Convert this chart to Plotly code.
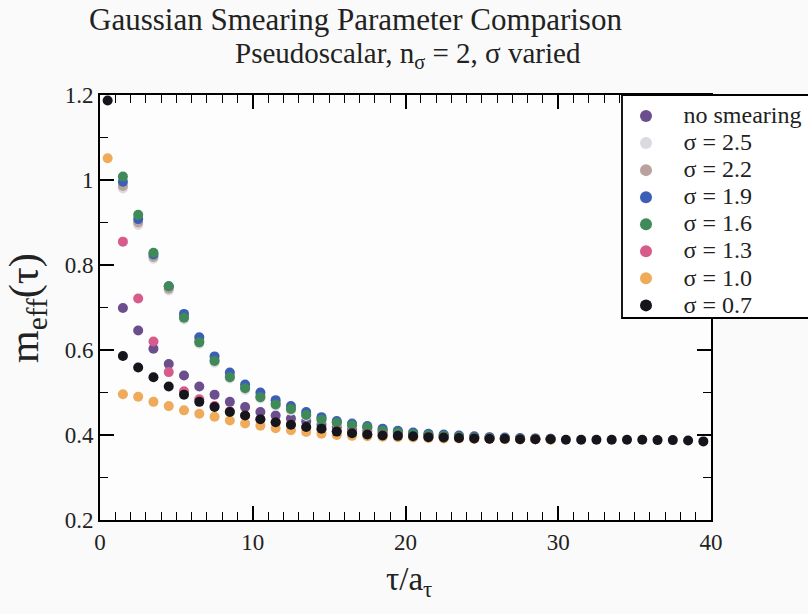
import numpy as np
import plotly.graph_objects as go

# Effective-mass time slices (midpoints between neighbouring timeslices)
tau = np.arange(0.5, 40.0, 1.0)

# m_eff(tau) for each smearing choice; most start at tau = 1.5
no_smearing = [0.699, 0.646, 0.603, 0.567, 0.540, 0.514, 0.495, 0.478, 0.466, 0.454,
               0.446, 0.439, 0.432, 0.425, 0.419, 0.414, 0.410, 0.406, 0.403, 0.400,
               0.398, 0.396, 0.394, 0.393, 0.392, 0.391, 0.391, 0.390, 0.390]
sigma_2_5 = [0.980, 0.894, 0.815, 0.740, 0.672, 0.615, 0.570, 0.533, 0.506, 0.486,
             0.469, 0.457, 0.445, 0.435, 0.427, 0.421, 0.416, 0.411, 0.407, 0.404,
             0.401, 0.399, 0.397, 0.395, 0.394, 0.393, 0.392, 0.391, 0.391]
sigma_2_2 = [0.986, 0.900, 0.819, 0.744, 0.677, 0.621, 0.576, 0.539, 0.512, 0.492,
             0.474, 0.461, 0.449, 0.438, 0.430, 0.424, 0.418, 0.413, 0.409, 0.405,
             0.402, 0.400, 0.398, 0.396, 0.394, 0.393, 0.392, 0.391, 0.391]
sigma_1_9 = [0.996, 0.908, 0.825, 0.750, 0.685, 0.630, 0.585, 0.547, 0.519, 0.500,
             0.482, 0.468, 0.454, 0.442, 0.433, 0.427, 0.421, 0.415, 0.410, 0.406,
             0.403, 0.401, 0.399, 0.397, 0.395, 0.394, 0.393, 0.392, 0.391]
sigma_1_6 = [1.008, 0.918, 0.829, 0.750, 0.676, 0.618, 0.574, 0.536, 0.510, 0.489,
             0.472, 0.461, 0.447, 0.436, 0.429, 0.423, 0.418, 0.410, 0.406, 0.402,
             0.400, 0.398, 0.396, 0.394, 0.393, 0.392, 0.391, 0.391, 0.390]
sigma_1_3 = [0.855, 0.721, 0.620, 0.548, 0.503, 0.484, 0.468, 0.456, 0.446, 0.437,
             0.430, 0.424, 0.418, 0.413, 0.409, 0.405, 0.402, 0.400, 0.398, 0.396,
             0.395, 0.394, 0.393, 0.392, 0.391, 0.391, 0.390, 0.390, 0.390]
# these two also have a point at tau = 0.5
sigma_1_0 = [1.051, 0.496, 0.490, 0.478, 0.468, 0.458, 0.450, 0.443, 0.434, 0.427,
             0.422, 0.416, 0.411, 0.407, 0.403, 0.400, 0.398, 0.397, 0.396, 0.395,
             0.394, 0.393, 0.392, 0.392, 0.391, 0.391, 0.390, 0.390, 0.390, 0.389]
sigma_0_7 = [1.187, 0.586, 0.559, 0.536, 0.514, 0.495, 0.478, 0.466, 0.454, 0.446,
             0.437, 0.430, 0.424, 0.419, 0.415, 0.408, 0.404, 0.401, 0.399, 0.398,
             0.397, 0.395, 0.394, 0.393, 0.392, 0.391, 0.391, 0.390, 0.390, 0.390,
             0.389, 0.389, 0.389, 0.389, 0.389, 0.389, 0.388, 0.388, 0.387, 0.385]

series = [
    ("no smearing", no_smearing, 1, "#6c4e8e"),
    ("σ = 2.5", sigma_2_5, 1, "#dadbe0"),
    ("σ = 2.2", sigma_2_2, 1, "#b9a29d"),
    ("σ = 1.9", sigma_1_9, 1, "#3c5fb5"),
    ("σ = 1.6", sigma_1_6, 1, "#3f8a58"),
    ("σ = 1.3", sigma_1_3, 1, "#d75b8b"),
    ("σ = 1.0", sigma_1_0, 0, "#efaa5a"),
    ("σ = 0.7", sigma_0_7, 0, "#15151c"),
]

SERIF = "Liberation Serif, Times New Roman, serif"
INK = "#222"

fig = go.Figure()
for name, vals, start, color in series:
    fig.add_trace(go.Scatter(
        x=tau[start:start + len(vals)], y=vals, mode="markers",
        name=f"<span style='font-size:24px'>{name}</span>",
        marker=dict(size=10, color=color, line=dict(width=0)),
        cliponaxis=False,
    ))

L, R, T, B, W, H = 100, 97, 95, 94, 808, 614
pw, ph = W - L - R, H - T - B


def px(xp):
    return (xp - L) / pw


def py(yp):
    return (H - B - yp) / ph


axis_common = dict(
    showline=True, linewidth=2, linecolor="black", mirror="allticks",
    ticks="inside", ticklen=14, tickwidth=1.5, tickcolor="black",
    showgrid=False, zeroline=False,
    tickfont=dict(family=SERIF, size=23, color=INK),
)

fig.update_xaxes(range=[0, 40], tickvals=[0, 10, 20, 30, 40],
                 minor=dict(dtick=1, ticks="inside", ticklen=8, tickwidth=1.2,
                            tickcolor="black"),
                 **axis_common)
fig.update_yaxes(range=[0.2, 1.2], tickvals=[0.2, 0.4, 0.6, 0.8, 1.0, 1.2],
                 ticktext=["0.2", "0.4", "0.6", "0.8", "1", "1.2"],
                 minor=dict(dtick=0.1, ticks="inside", ticklen=8, tickwidth=1.2,
                            tickcolor="black"),
                 **axis_common)

fig.update_layout(
    width=W, height=H,
    margin=dict(l=L, r=R, t=T, b=B, autoexpand=False),
    paper_bgcolor="#fafafa", plot_bgcolor="#fdfdfd",
    font=dict(family=SERIF, color=INK),
    legend=dict(
        x=px(608.5), y=py(97.5), xanchor="left", yanchor="top",
        bgcolor="rgba(0,0,0,0)", borderwidth=0,
        font=dict(family=SERIF, size=18.5, color=INK),
        itemsizing="constant", itemwidth=65,
    ),
    shapes=[
        # legend frame, running off the right edge of the page
        dict(type="rect", xref="paper", yref="paper", layer="above",
             x0=px(622), x1=px(840), y0=py(318), y1=py(95),
             line=dict(color="black", width=1.8), fillcolor="white"),
    ],
    annotations=[
        dict(text="Gaussian Smearing Parameter Comparison", xref="paper", yref="paper",
             x=px(355), y=py(19), xanchor="center", yanchor="middle", showarrow=False,
             font=dict(family=SERIF, size=31, color=INK)),
        dict(text="Pseudoscalar, n<sub>σ</sub> = 2, σ varied", xref="paper", yref="paper",
             x=px(408), y=py(35), xanchor="center", yanchor="top", showarrow=False,
             font=dict(family=SERIF, size=29, color=INK)),
        dict(text="m<sub>eff</sub>(τ)", xref="paper", yref="paper",
             x=px(27), y=py(308), xanchor="center", yanchor="middle", showarrow=False,
             textangle=-90, font=dict(family=SERIF, size=42, color=INK)),
        dict(text="τ/a<sub>τ</sub>", xref="paper", yref="paper",
             x=px(409), y=py(581), xanchor="center", yanchor="middle", showarrow=False,
             font=dict(family=SERIF, size=33, color=INK)),
    ],
)

fig.write_html("out.html")
